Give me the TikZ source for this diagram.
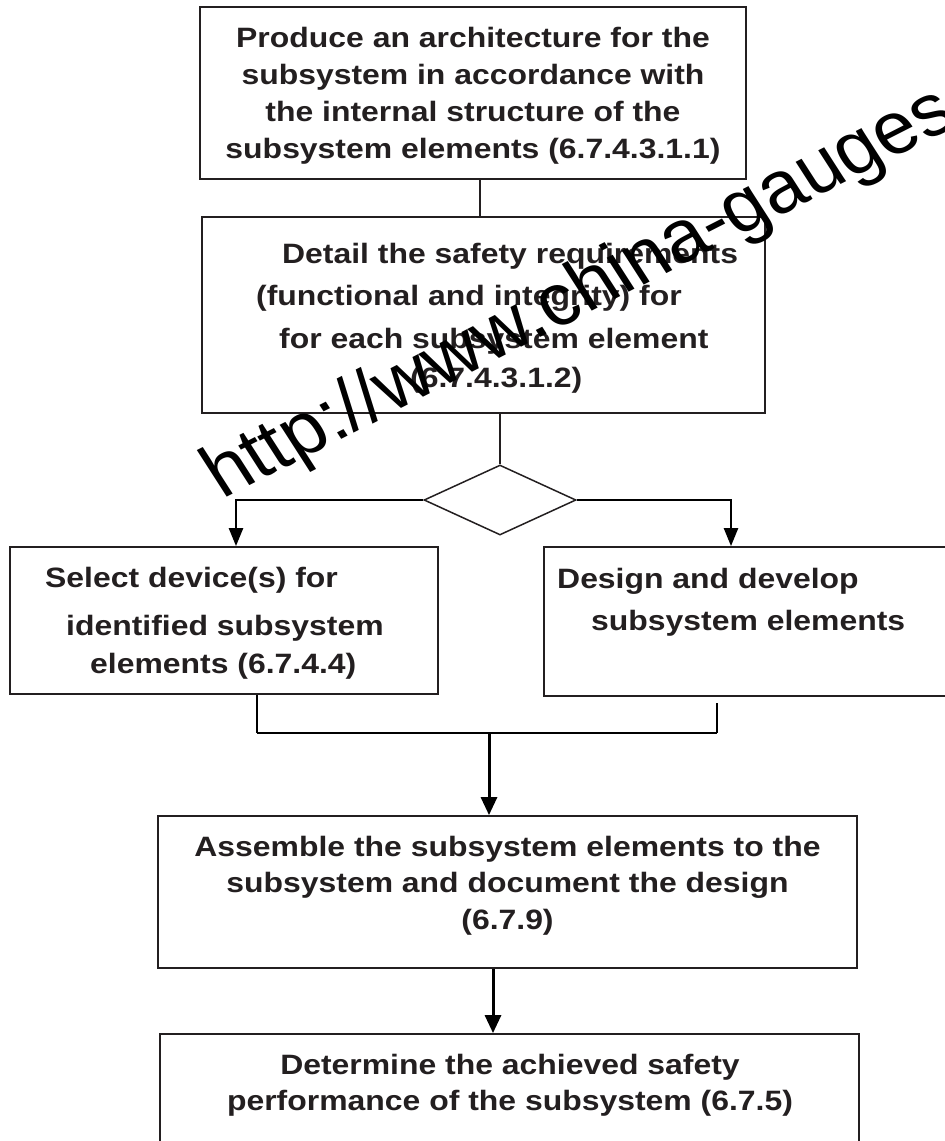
\documentclass[tikz,border=0pt]{standalone}
\usepackage{fontspec}
\usetikzlibrary{arrows.meta,shapes.geometric}
\newfontfamily\boxfont{Liberation Sans}[FakeStretch=1.14]
\newfontfamily\markfont{Liberation Sans}
\definecolor{ink}{RGB}{35,31,32}
\begin{document}
\begin{tikzpicture}[x=1pt,y=-1pt,
  box/.style={draw=ink, line width=1.8pt, rectangle, inner sep=0pt},
  txt/.style={text=ink, inner sep=0pt, font=\boxfont\bfseries\fontsize{28}{32}\selectfont},
  link/.style={draw=ink, line width=1.3pt},
  leg/.style={draw=black, line width=1.7pt},
  bar/.style={draw=black, line width=2.6pt},
  side/.style={draw=black, line width=2.4pt, -{Triangle[length=18pt,width=14pt]}},
  arr/.style={draw=black, line width=3pt, -{Triangle[length=18pt,width=16pt]}},
]
\useasboundingbox (0,0) rectangle (945,1141);
\clip (0,0) rectangle (945,1141);

% process boxes
\node[box, minimum width=546pt, minimum height=172pt] (box1) at (473,93) {};
\node[box, minimum width=563pt, minimum height=196pt] (box2) at (483.5,315) {};
\node[draw=ink, line width=1.5pt, diamond, inner sep=0pt,
      minimum width=152pt, minimum height=70pt] (dia) at (500,500) {};
\node[box, minimum width=428pt, minimum height=147pt] (box3) at (224,620.5) {};
\node[box, minimum width=416pt, minimum height=149pt] (box4) at (752,621.5) {};
\node[box, minimum width=699pt, minimum height=152pt] (box5) at (507.5,892) {};
\node[box, minimum width=699pt, minimum height=166pt] (box6) at (509.5,1117) {};

% box texts
\node[txt, anchor=base] (t1a) at (473,47)  {Produce an architecture for the};
\node[txt, anchor=base] (t1b) at (473,84)  {subsystem in accordance with};
\node[txt, anchor=base] (t1c) at (473,121) {the internal structure of the};
\node[txt, anchor=base] (t1d) at (473,158) {subsystem elements (6.7.4.3.1.1)};

\node[txt, anchor=base west] (t2a) at (282,263) {Detail the safety requirements};
\node[txt, anchor=base west] (t2b) at (256,305) {(functional and integrity) for};
\node[txt, anchor=base west] (t2c) at (279,348) {for each subsystem element};
\node[txt, anchor=base west] (t2d) at (410,387) {(6.7.4.3.1.2)};

\node[txt, anchor=base west] (t3a) at (45,587) {Select device(s) for};
\node[txt, anchor=base west] (t3b) at (66,635) {identified subsystem};
\node[txt, anchor=base west] (t3c) at (90,673) {elements (6.7.4.4)};

\node[txt, anchor=base west] (t4a) at (557,588) {Design and develop};
\node[txt, anchor=base west] (t4b) at (591,630) {subsystem elements};

\node[txt, anchor=base] (t5a) at (507.5,856) {Assemble the subsystem elements to the};
\node[txt, anchor=base] (t5b) at (507.5,892) {subsystem and document the design};
\node[txt, anchor=base] (t5c) at (507.5,929) {(6.7.9)};

\node[txt, anchor=base] (t6a) at (510,1074) {Determine the achieved safety};
\node[txt, anchor=base] (t6b) at (510,1110) {performance of the subsystem (6.7.5)};

% connectors
\coordinate (c1) at (480,0);
\coordinate (l3) at (236,0);
\coordinate (r4) at (731,0);
\coordinate (j3) at (257,0);
\coordinate (j4) at (717,703);
\coordinate (m)  at (489,733);
\coordinate (k)  at (493,0);

\draw[link] (box1.south -| c1) -- (box2.north -| c1);
\draw[link] (box2.south -| dia.north) -- (dia.north);
\draw[side] (dia.west) -| (box3.north -| l3);
\draw[side] (dia.east) -| (box4.north -| r4);
\draw[leg] (box3.south -| j3) -- (j3 |- m);
\draw[leg] (j4) -- (j4 |- m);
\draw[bar] (j3 |- m) -- (j4 |- m);
\draw[arr] (m) -- (box5.north -| m);
\draw[arr] (box5.south -| k) -- (box6.north -| k);

% site mark across the sheet
\node[anchor=base west, inner sep=0pt, font=\markfont\fontsize{76}{76}\selectfont,
      rotate=27, xslant=-0.1] (mark) at (222,500) {http://www.china-gauges};
\end{tikzpicture}
\end{document}
